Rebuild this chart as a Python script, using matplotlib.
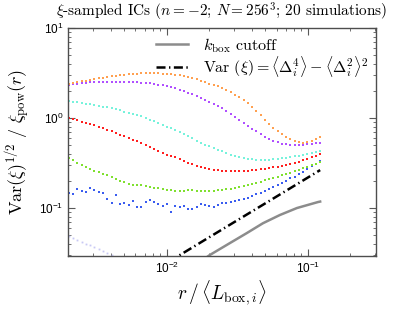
import numpy as np
import matplotlib
matplotlib.use("Agg")
import matplotlib.pyplot as plt
from matplotlib.ticker import NullFormatter

plt.rcParams['font.family'] = ['Liberation Sans', 'DejaVu Sans']
plt.rcParams['mathtext.fontset'] = 'cm'
plt.rcParams['lines.scale_dashes'] = False

# sample positions r / <L_box,i>
r = np.geomspace(0.00203, 0.122, 60)

orange = [2.38, 2.45, 2.51, 2.58, 2.58, 2.64, 2.71, 2.78, 2.78, 2.85,
          2.93, 2.93, 3.00, 3.00, 3.08, 3.08, 3.08, 3.16, 3.16, 3.16,
          3.16, 3.16, 3.08, 3.08, 3.08, 3.00, 3.00, 2.93, 2.85, 2.78,
          2.71, 2.58, 2.51, 2.38, 2.33, 2.27, 2.15, 2.05, 1.95, 1.80,
          1.71, 1.585, 1.47, 1.33, 1.196, 1.08, 0.95, 0.858, 0.774, 0.717,
          0.664, 0.615, 0.584, 0.555, 0.541, 0.527, 0.541, 0.555, 0.584, 0.615]

purple = [2.33, 2.38, 2.38, 2.45, 2.45, 2.51, 2.51, 2.51, 2.51, 2.51,
          2.51, 2.51, 2.51, 2.51, 2.51, 2.51, 2.51, 2.45, 2.45, 2.45,
          2.38, 2.33, 2.33, 2.27, 2.21, 2.15, 2.05, 2.00, 1.90, 1.85,
          1.76, 1.67, 1.585, 1.51, 1.43, 1.36, 1.29, 1.196, 1.108, 1.026,
          0.95, 0.88, 0.815, 0.755, 0.717, 0.664, 0.615, 0.584, 0.555, 0.541,
          0.514, 0.514, 0.501, 0.501, 0.501, 0.501, 0.514, 0.514, 0.527, 0.527]

cyan = [1.54, 1.51, 1.51, 1.47, 1.43, 1.43, 1.39, 1.36, 1.33, 1.33,
        1.29, 1.26, 1.227, 1.166, 1.137, 1.108, 1.08, 1.052, 1.0, 0.95,
        0.926, 0.88, 0.836, 0.794, 0.774, 0.736, 0.699, 0.664, 0.631, 0.599,
        0.555, 0.527, 0.501, 0.488, 0.464, 0.441, 0.43, 0.408, 0.388, 0.378,
        0.369, 0.359, 0.35, 0.35, 0.341, 0.341, 0.341, 0.341, 0.35, 0.35,
        0.359, 0.359, 0.369, 0.378, 0.378, 0.388, 0.398, 0.408, 0.419, 0.43]

red = [1.0, 0.975, 0.95, 0.903, 0.88, 0.858, 0.836, 0.794, 0.774, 0.736,
       0.717, 0.681, 0.647, 0.631, 0.599, 0.57, 0.555, 0.527, 0.501, 0.476,
       0.452, 0.43, 0.408, 0.388, 0.378, 0.369, 0.35, 0.333, 0.316, 0.308,
       0.293, 0.286, 0.278, 0.271, 0.264, 0.264, 0.258, 0.258, 0.258, 0.258,
       0.258, 0.258, 0.258, 0.264, 0.264, 0.271, 0.271, 0.278, 0.286, 0.286,
       0.293, 0.30, 0.308, 0.316, 0.325, 0.341, 0.35, 0.369, 0.378, 0.398]

green = [0.359, 0.341, 0.316, 0.30, 0.286, 0.271, 0.258, 0.251, 0.239, 0.233,
         0.221, 0.21, 0.199, 0.194, 0.185, 0.18, 0.18, 0.18, 0.176, 0.171,
         0.167, 0.167, 0.162, 0.158, 0.158, 0.154, 0.154, 0.154, 0.158, 0.158,
         0.154, 0.154, 0.154, 0.154, 0.154, 0.158, 0.158, 0.162, 0.162, 0.167,
         0.171, 0.176, 0.18, 0.185, 0.19, 0.194, 0.205, 0.21, 0.215, 0.221,
         0.233, 0.239, 0.245, 0.258, 0.264, 0.278, 0.286, 0.30, 0.308, 0.325]

blue = [0.147, 0.143, 0.162, 0.154, 0.15, 0.167, 0.158, 0.15, 0.147, 0.126,
        0.114, 0.139, 0.111, 0.114, 0.108, 0.12, 0.103, 0.103, 0.117, 0.123,
        0.117, 0.111, 0.105, 0.111, 0.0903, 0.105, 0.103, 0.105, 0.0975, 0.0975,
        0.103, 0.111, 0.108, 0.105, 0.103, 0.108, 0.114, 0.114, 0.117, 0.12,
        0.123, 0.126, 0.129, 0.136, 0.143, 0.147, 0.154, 0.162, 0.171, 0.18,
        0.19, 0.199, 0.215, 0.221, 0.239, 0.251, 0.271, 0.293, 0.308, 0.333]

lavender = [0.0489, 0.0464, 0.0441, 0.0419, 0.0398, 0.0388, 0.0369, 0.035,
            0.0333, 0.0316, 0.0301, 0.0286, 0.0271]

# Var(xi) = <D^4> - <D^2>^2 curve
var_r = [0.005, 0.01, 0.02, 0.05, 0.122]
var_v = [0.0127, 0.0245, 0.0474, 0.113, 0.264]

# k_box cutoff curve
kbox_r = [0.015, 0.0202, 0.028, 0.0369, 0.048, 0.0633, 0.0835, 0.1178, 0.122]
kbox_v = [0.0215, 0.0301, 0.0408, 0.0527, 0.0678, 0.0837, 0.100, 0.1166, 0.118]

fig = plt.figure(figsize=(4.15, 3.13), dpi=100)
ax = fig.add_axes([0.1639, 0.182, 0.742, 0.7285])

ax.plot(kbox_r, kbox_v, color='#8c8c8c', lw=1.8, label=r'$k_{\mathrm{box}}$ cutoff')
ax.plot(var_r, var_v, color='black', lw=1.8, dashes=(6.5, 2.5, 1.0, 2.5),
        label=r'$\mathrm{Var}\ (\xi) = \langle\Delta_i^4\rangle - \langle\Delta_i^2\rangle^2$')

series = [(lavender, '#c8c8f4'), (blue, '#3a5cf0'), (green, '#80e030'),
          (red, '#ff2020'), (cyan, '#78f2dc'), (purple, '#b050ff'),
          (orange, '#ffa050')]
for vals, col in series:
    ms = 1.3 if col == '#c8c8f4' else 1.8
    ax.plot(r[:len(vals)], vals, ls='none', marker='s', ms=ms, mew=0, color=col)

ax.set_xscale('log')
ax.set_yscale('log')
ax.set_xlim(0.002, 0.303)
ax.set_ylim(0.0293, 10)

ax.xaxis.set_minor_formatter(NullFormatter())
ax.yaxis.set_minor_formatter(NullFormatter())
ax.tick_params(which='both', direction='in', top=True, right=True,
               labelsize=8.5, color='0.35')
ax.tick_params(which='major', length=5, width=0.8)
ax.tick_params(which='minor', length=2.5, width=0.6)
for s in ax.spines.values():
    s.set_color('0.3')
    s.set_linewidth(1.0)

ax.set_xlabel(r'$r\,/\,\langle L_{\mathrm{box},i}\rangle$', fontsize=14, labelpad=2)
ax.set_ylabel(r'$\mathrm{Var}(\xi)^{1/2}\ /\ \xi_{\mathrm{pow}}(r)$', fontsize=13, labelpad=4)
ax.set_title(r'$\xi$-sampled ICs ($n=-2$; $N=256^3$; 20 simulations)',
             fontsize=11, family='cmr10', pad=8)

leg = ax.legend(loc='upper right', frameon=False,
                handlelength=2.0, handletextpad=0.9, borderaxespad=0.1,
                labelspacing=-0.05,
                prop={'family': 'cmr10', 'size': 11.5})

fig.savefig('out.png', dpi=100)
